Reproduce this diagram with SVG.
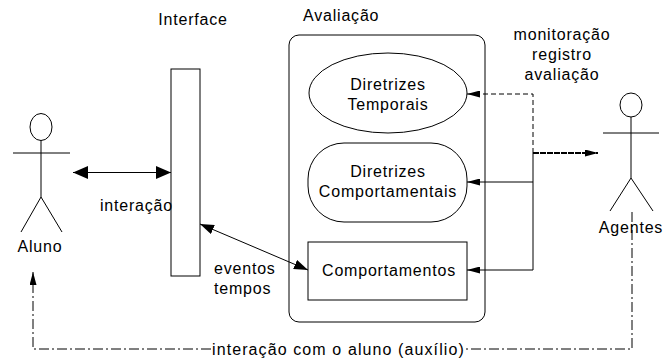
<svg xmlns="http://www.w3.org/2000/svg" width="663" height="360" viewBox="0 0 663 360">
<style>
text{font-family:"Liberation Sans",Arial,Helvetica,sans-serif;font-size:16px;letter-spacing:0.8px;fill:#000}
.s{fill:#fff;stroke:#000;stroke-width:1}
.ln{fill:none;stroke:#000;stroke-width:1}
.c{text-anchor:middle}
</style>
<defs>
<marker id="big" viewBox="0 0 15 13" refX="15" refY="6.5" markerWidth="15" markerHeight="13" markerUnits="userSpaceOnUse" orient="auto-start-reverse"><path d="M0,0 L15,6.5 L0,13 Z" fill="#000"/></marker>
<marker id="mid" viewBox="0 0 14 10" refX="14" refY="5" markerWidth="14" markerHeight="10" markerUnits="userSpaceOnUse" orient="auto-start-reverse"><path d="M0,0 L14,5 L0,10 Z" fill="#000"/></marker>
<marker id="sm" viewBox="0 0 13 7" refX="13" refY="3.5" markerWidth="13" markerHeight="7" markerUnits="userSpaceOnUse" orient="auto"><path d="M0,0 L13,3.5 L0,7 Z" fill="#000"/></marker>
</defs>

<g id="aluno">
<ellipse class="s" cx="41" cy="127" rx="11" ry="13.5"/>
<path class="ln" d="M13,153 H70 M41,140.5 V197 L21,232 M41,197 L62,232"/>
<text x="40" y="252" class="c">Aluno</text>
</g>

<g id="interface">
<text x="193" y="25" class="c">Interface</text>
<rect class="s" x="171" y="69" width="29" height="207"/>
</g>

<g id="avaliacao">
<text x="303" y="21">Avaliação</text>
<rect class="s" x="289" y="35" width="196" height="287" rx="10"/>
</g>

<g id="dir-temporais">
<ellipse class="s" cx="388" cy="93" rx="79" ry="40"/>
<text x="388" y="90" class="c">Diretrizes</text>
<text x="388" y="110" class="c">Temporais</text>
</g>

<g id="dir-comportamentais">
<rect class="s" x="308" y="143" width="159" height="79" rx="36"/>
<text x="388" y="177" class="c">Diretrizes</text>
<text x="388" y="197" class="c">Comportamentais</text>
</g>

<g id="comportamentos">
<rect class="s" x="308" y="242" width="159" height="58"/>
<text x="389" y="276" class="c">Comportamentos</text>
</g>

<g id="agentes">
<ellipse class="s" cx="631" cy="105" rx="11" ry="12"/>
<path class="ln" d="M603,133 H659 M631,117 V178 L610,211 M631,178 L653,211"/>
<text x="631" y="233" class="c">Agentes</text>
</g>

<g id="connectors">
<line class="ln" x1="73" y1="172.5" x2="171" y2="172.5" marker-start="url(#big)" marker-end="url(#big)"/>
<line class="ln" x1="200" y1="224" x2="308" y2="270" marker-start="url(#mid)" marker-end="url(#mid)"/>
<path class="ln" d="M533,153 V94 H467" stroke-dasharray="5 3" marker-end="url(#sm)"/>
<line x1="533" y1="153" x2="598" y2="153" stroke="#000" stroke-width="2" stroke-dasharray="6 1" marker-end="url(#sm)"/>
<path class="ln" d="M533,153 V270 H467" marker-end="url(#sm)"/>
<path class="ln" d="M533,182 H467" marker-end="url(#sm)"/>
<path class="ln" d="M632,212 V349 H466" stroke-dasharray="10 3 2 3"/>
<path class="ln" d="M211,349 H33 V272" stroke-dasharray="10 3 2 3" marker-end="url(#sm)"/>
</g>

<g id="labels">
<text x="100" y="211">interação</text>
<text x="214" y="274">eventos</text>
<text x="214" y="294">tempos</text>
<text x="562" y="40" class="c">monitoração</text>
<text x="562" y="60" class="c">registro</text>
<text x="562" y="80" class="c">avaliação</text>
<text x="212" y="355" style="letter-spacing:1.1px">interação com o aluno (auxílio)</text>
</g>
</svg>
